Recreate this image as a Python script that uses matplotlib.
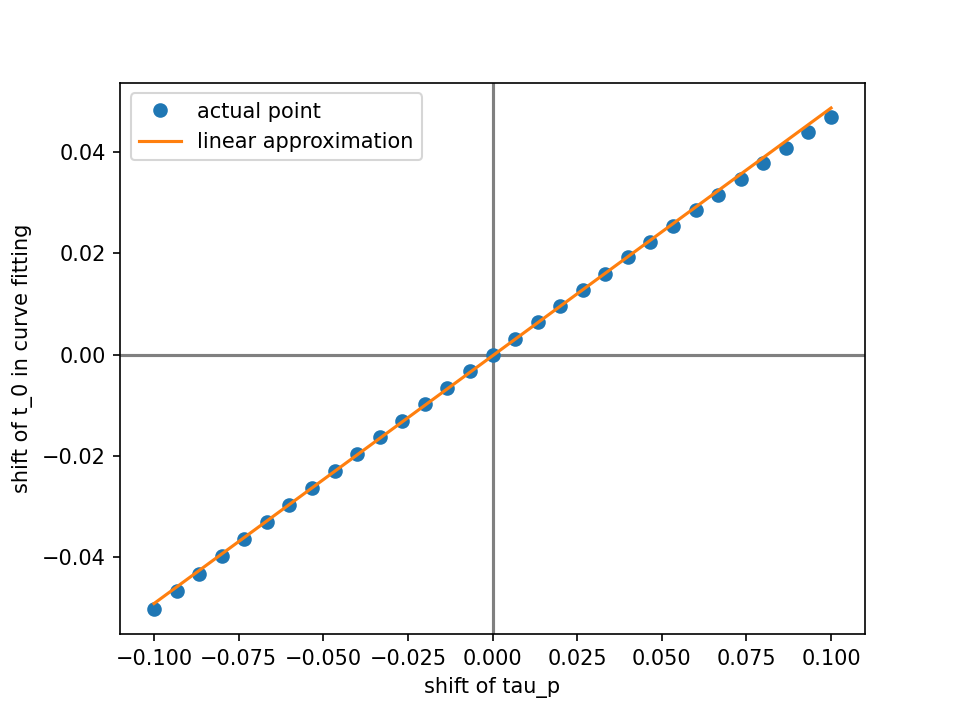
import numpy as np
import matplotlib
matplotlib.use("Agg")
import matplotlib.pyplot as plt

# shift of tau_p (31 samples between -0.1 and 0.1)
tau_shift = np.linspace(-0.1, 0.1, 31)

# shift of t_0
t0_shift = [-0.0502, -0.0467, -0.0432, -0.0397, -0.0363, -0.0330, -0.0296,
            -0.0263, -0.0230, -0.0196, -0.0163, -0.0130, -0.0097, -0.0065,
            -0.0032, 0.0000, 0.0032, 0.0064, 0.0096, 0.0128, 0.0160, 0.0192,
            0.0223, 0.0254, 0.0285, 0.0316, 0.0347, 0.0378, 0.0409, 0.0439,
            0.0469]

# linear approximation end points
line_x = [-0.1, 0.1]
line_y = [-0.0491, 0.0487]

fig, ax = plt.subplots(figsize=(9.61 / 1.5, 7.15 / 1.5), dpi=150)
fig.subplots_adjust(top=0.884, bottom=0.113)
ax.axhline(0, color="gray")
ax.axvline(0, color="gray")
ax.plot(tau_shift, t0_shift, "o", label="actual point")
ax.plot(line_x, line_y, label="linear approximation")
ax.set_xticks(np.arange(-0.1, 0.1001, 0.025))
ax.set_xlabel("shift of tau_p")
ax.set_ylabel("shift of t_0 in curve fitting")
ax.legend(loc="upper left")
fig.savefig("out.png")
